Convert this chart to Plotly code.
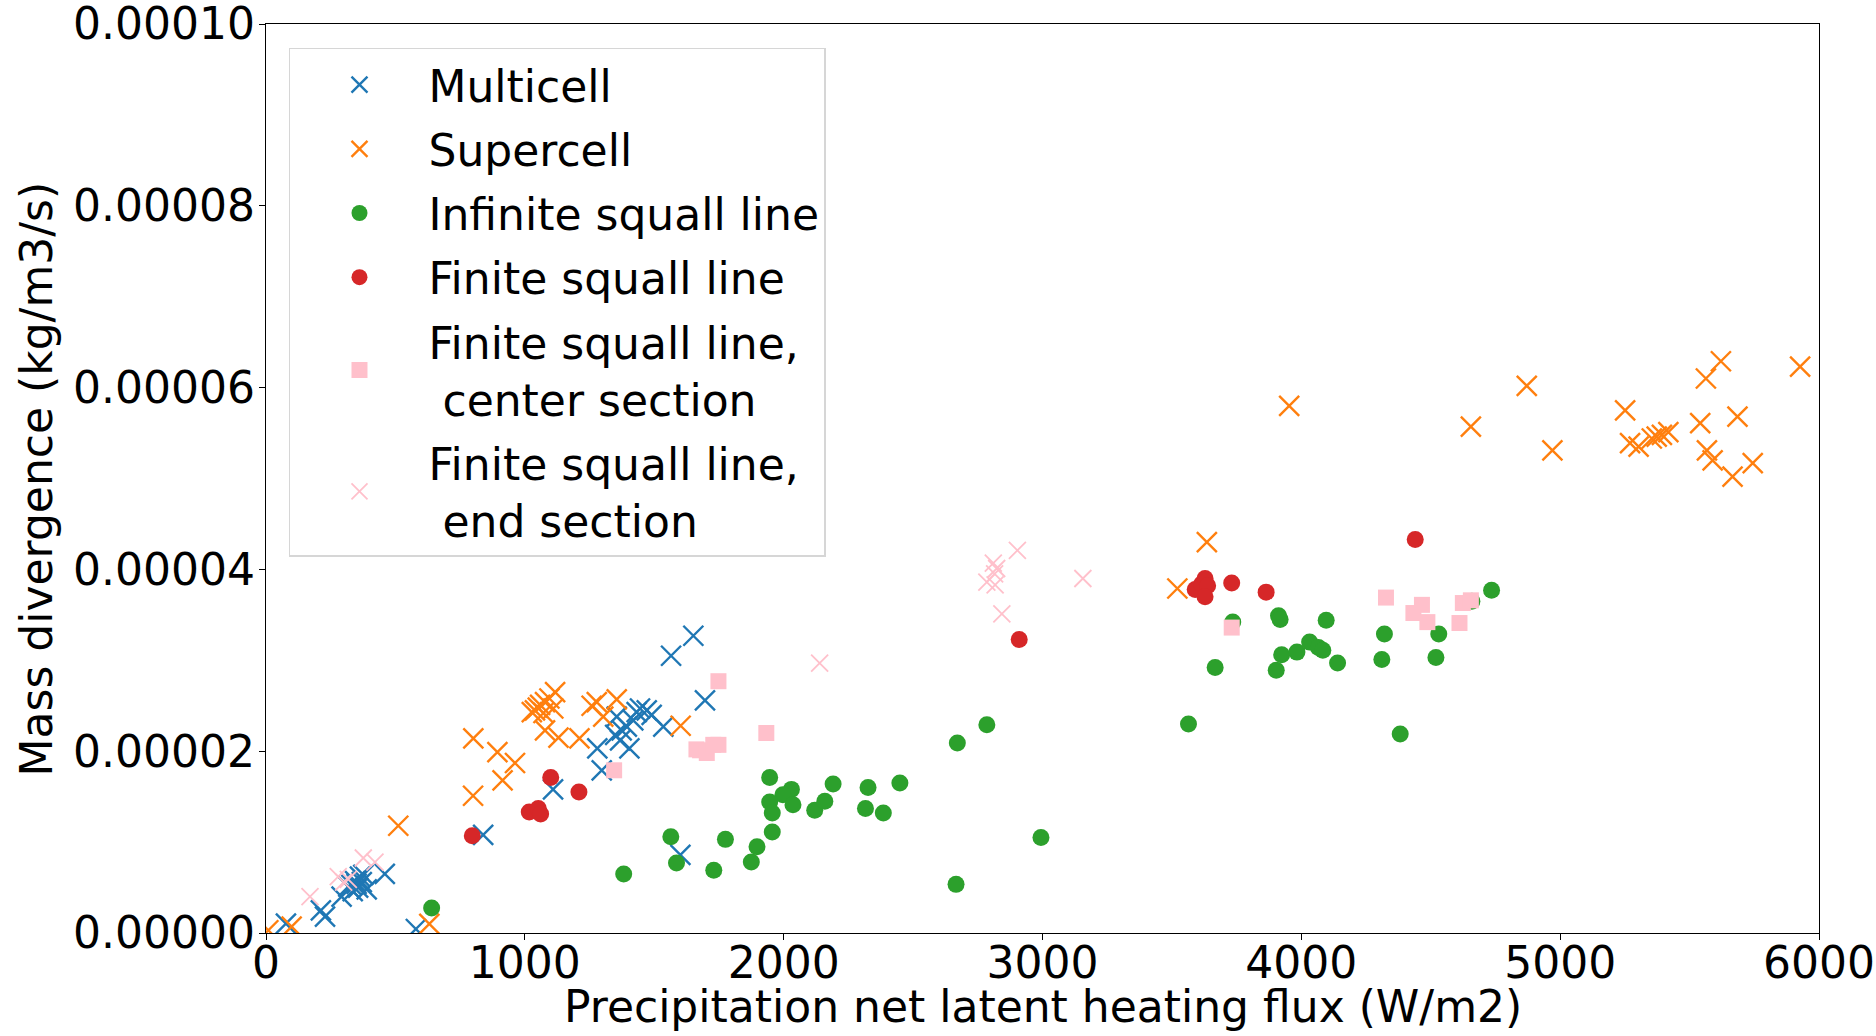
import numpy as np
import plotly.graph_objects as go

# Precipitation net latent heating flux (W/m2) per case type
multicell_x = [77, 212, 228, 292, 318, 335, 344, 356, 363, 376, 389, 350, 370, 330, 459, 579,
               839, 1109, 1280, 1297, 1404, 1355, 1349, 1374, 1394, 1368, 1419, 1432, 1445,
               1471, 1490, 1535, 1565, 1651, 1696, 1601]
# Mass divergence in units of 1e-6 kg/m3/s
multicell_y = [1.03, 2.5, 1.8, 4.0, 5.1, 4.6, 5.7, 5.0, 6.2, 6.4, 4.8, 5.4, 5.6, 5.3, 6.5, 0.44,
               10.8, 15.8, 20.3, 17.9, 20.3, 23.8, 21.8, 22.3, 22.7, 21.2, 23.4, 24.3, 24.7,
               24.5, 24.0, 22.7, 30.5, 32.7, 25.6, 8.6]

supercell_x = [9, 99, 631, 511, 801, 894, 962, 914, 800, 1027, 1039, 1059, 1078, 1095, 1117,
               1072, 1110, 1050, 1078, 1130, 1211, 1258, 1278, 1303, 1355, 1602, 3521, 3635,
               3953, 4655, 4871, 4970, 5251, 5270, 5303, 5354, 5373, 5393, 5418, 5563, 5621,
               5541, 5685, 5567, 5589, 5666, 5744, 5927]
supercell_y = [0.3, 0.7, 1.0, 11.8, 21.4, 19.9, 18.7, 16.8, 15.1, 24.3, 24.5, 25.1, 25.4, 25.8,
               26.5, 24.2, 24.7, 24.8, 22.3, 21.5, 21.4, 25.0, 25.4, 23.8, 25.7, 22.8, 37.9,
               43.0, 58.0, 55.7, 60.2, 53.1, 57.5, 53.9, 53.5, 54.4, 54.6, 54.8, 55.1, 61.0,
               62.9, 56.1, 56.8, 53.1, 52.0, 50.2, 51.7, 62.3]

infinite_x = [640, 1382, 1564, 1586, 1730, 1775, 1875, 1897, 1946, 2030, 1997, 1946, 2036, 1956,
              1956, 2120, 2159, 2191, 2326, 2316, 2385, 2449, 2666, 2671, 2785, 2994, 3564,
              3667, 3735, 3912, 3918, 4096, 3924, 3983, 3903, 4032, 4066, 4083, 4140, 4321,
              4311, 4531, 4520, 4382, 4659, 4735]
infinite_y = [2.75, 6.5, 10.6, 7.7, 6.9, 10.3, 7.8, 9.5, 17.1, 15.8, 15.2, 14.4, 14.1, 13.2,
              11.1, 13.5, 14.5, 16.4, 16.0, 13.7, 13.2, 16.5, 5.35, 20.9, 22.9, 10.5, 23.0,
              29.2, 34.2, 34.9, 34.5, 34.4, 30.6, 30.9, 28.9, 32.0, 31.4, 31.1, 29.7, 32.9,
              30.1, 32.9, 30.3, 21.9, 36.5, 37.7]

finite_x = [797, 1017, 1052, 1061, 1100, 1209, 2910, 3590, 3615, 3628, 3638, 3628, 3731, 3864, 4440]
finite_y = [10.7, 13.3, 13.7, 13.1, 17.1, 15.5, 32.3, 37.8, 38.4, 39.0, 38.2, 37.0, 38.5, 37.5, 43.3]

center_x = [1345, 1663, 1677, 1703, 1728, 1748, 1748, 1933, 3731, 4327, 4433, 4466, 4487,
            4611, 4624, 4655]
center_y = [17.9, 20.2, 20.1, 19.8, 20.7, 20.7, 27.7, 22.0, 33.6, 36.9, 35.2, 36.1, 34.2,
            34.1, 36.3, 36.6]

end_x = [170, 279, 318, 300, 376, 421, 2139, 2785, 2810, 2817, 2823, 2815, 2843, 2903, 3156]
end_y = [4.0, 6.2, 5.9, 5.6, 8.25, 7.8, 29.7, 38.6, 40.7, 38.3, 40.1, 39.5, 35.1, 42.1, 39.0]

x_ticks = [0, 1000, 2000, 3000, 4000, 5000, 6000]
y_ticks = [0.0, 2e-5, 4e-5, 6e-5, 8e-5, 1e-4]

FONT = "DejaVu Sans"
NBSP = "\u00a0"

series = [
    ("Multicell", multicell_x, multicell_y, "#1f77b4", "x-thin", 20, 2.4),
    ("Supercell", supercell_x, supercell_y, "#ff7f0e", "x-thin", 20, 2.4),
    ("Infinite squall line", infinite_x, infinite_y, "#2ca02c", "circle", 17, 0),
    ("Finite squall line", finite_x, finite_y, "#d62728", "circle", 17, 0),
    ("Finite squall line,<br>" + NBSP + "center section", center_x, center_y, "pink", "square", 16, 0),
    ("Finite squall line,<br>" + NBSP + "end section", end_x, end_y, "pink", "x-thin", 17, 1.8),
]

fig = go.Figure()
for i, (name, xs, ys, color, symbol, size, lw) in enumerate(series):
    marker = dict(color=color, size=size, symbol=symbol)
    if symbol == "x-thin":
        marker["line"] = dict(color=color, width=lw)
    else:
        marker["line"] = dict(width=0)
    fig.add_trace(go.Scatter(
        x=xs, y=np.array(ys) * 1e-6, mode="markers", name=name,
        legendgroup=f"g{i}", marker=marker,
    ))

axis_common = dict(
    showgrid=False, zeroline=False, showline=True, linecolor="black", linewidth=1.3,
    mirror=True, ticks="outside", ticklen=6, tickwidth=1.3, tickcolor="black",
    tickfont=dict(family=FONT, size=44, color="black"), automargin=False,
    ticklabeloverflow="allow",
)

fig.update_layout(
    width=1876, height=1036,
    margin=dict(l=266, r=57, t=24, b=103),
    paper_bgcolor="white", plot_bgcolor="white",
    font=dict(family=FONT, size=44, color="black"),
    xaxis=dict(range=[0, 6000], tickvals=x_ticks, ticklabelstandoff=-15, **axis_common),
    yaxis=dict(range=[0, 1.000001e-4], tickvals=y_ticks, tickformat=".5f",
               ticklabelstandoff=-5, **axis_common),
    legend=dict(
        x=0.0148, y=0.9736, xanchor="left", yanchor="top",
        font=dict(family=FONT, size=44, color="black"),
        bgcolor="rgba(255,255,255,0.8)", bordercolor="#d6d6d6", borderwidth=1.5,
        itemsizing="trace", tracegroupgap=4, itemwidth=128, valign="middle",
    ),
    showlegend=True,
)

# Axis titles placed as annotations relative to the plotting area
fig.add_annotation(
    text="Precipitation net latent heating flux (W/m2)",
    xref="paper", yref="paper", x=0.5, y=-0.081, xanchor="center", yanchor="middle",
    showarrow=False, font=dict(family=FONT, size=44, color="black"),
)
fig.add_annotation(
    text="Mass divergence (kg/m3/s)",
    xref="paper", yref="paper", x=-0.1475, y=0.5, xanchor="center", yanchor="middle",
    textangle=-90, showarrow=False, font=dict(family=FONT, size=44, color="black"),
)

fig.write_html("out.html")
